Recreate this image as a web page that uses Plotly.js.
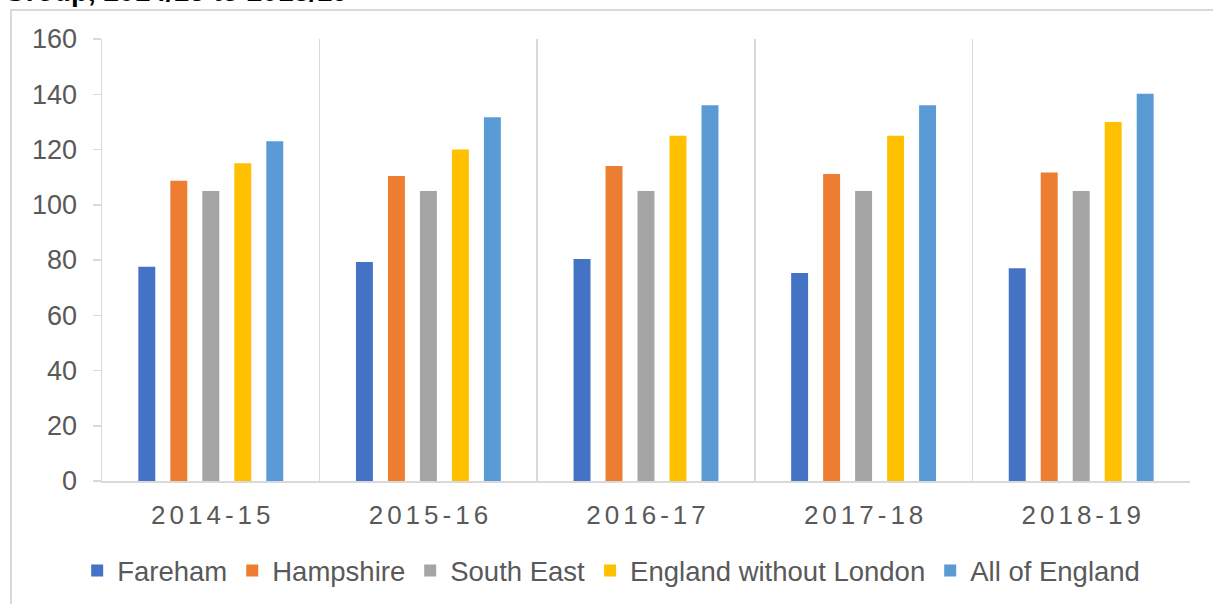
<!DOCTYPE html>
<html>
<head>
<meta charset="utf-8">
<script src="https://cdn.plot.ly/plotly-3.0.1.min.js"></script>
<style>
  html, body { margin: 0; padding: 0; background: #ffffff; overflow: hidden; }
  #frame { position: absolute; left: 10px; top: 9px; width: 1220px; height: 620px;
           border: 2px solid #d9d9d9; box-sizing: border-box; }
  #chart { position: absolute; left: 0; top: 0; width: 1213px; height: 604px; }
</style>
</head>
<body>
<div id="frame"></div>
<div id="chart"></div>
<script>
const years = ["2014-15", "2015-16", "2016-17", "2017-18", "2018-19"];
const seriesNames = ["Fareham", "Hampshire", "South East", "England without London", "All of England"];
const fareham = [77.6, 79.3, 80.4, 75.3, 77.0];
const hampshire = [108.7, 110.4, 114.0, 111.1, 111.7];
const southEast = [105, 105, 105, 105, 105];
const englandWithoutLondon = [115, 120, 125, 125, 130];
const allOfEngland = [123, 131.7, 136, 136, 140.2];
const colors = ["#4472C4", "#ED7D31", "#A5A5A5", "#FFC000", "#5B9BD5"];

const values = [fareham, hampshire, southEast, englandWithoutLondon, allOfEngland];
const traces = values.map((v, i) => ({
  type: "bar",
  name: seriesNames[i],
  x: years,
  y: v,
  marker: { color: colors[i], line: { width: 0 } }
}));

const font = "Liberation Sans, Arial, sans-serif";
const layout = {
  width: 1213, height: 604,
  margin: { l: 102, r: 23, t: 39, b: 123, autoexpand: false },
  paper_bgcolor: "rgba(0,0,0,0)",
  plot_bgcolor: "rgba(0,0,0,0)",
  barmode: "group",
  bargap: 0.265,
  bargroupgap: 0.47,
  font: { family: font, color: "#595959" },
  xaxis: {
    type: "category",
    tickson: "boundaries",
    showgrid: true, gridcolor: "#d9d9d9", gridwidth: 1.5,
    showline: true, linecolor: "#d9d9d9", linewidth: 1.5,
    ticks: "", tickfont: { size: 26, color: "#595959", family: font },
    ticklabelstandoff: 10,
    zeroline: false
  },
  yaxis: {
    range: [0, 160], dtick: 20, tick0: 0,
    showgrid: false, zeroline: false,
    showline: true, linecolor: "#d9d9d9", linewidth: 1.5,
    ticks: "outside", ticklen: 8, tickcolor: "#d9d9d9", tickwidth: 1.5,
    tickfont: { size: 27, color: "#595959", family: font },
    ticklabelstandoff: 10
  },
  showlegend: true,
  legend: {
    orientation: "h", xref: "paper", yref: "paper",
    x: 0.468, xanchor: "center", y: -0.203, yanchor: "middle",
    font: { size: 27.5, color: "#595959", family: font },
    itemwidth: 30, traceorder: "normal"
  },
  annotations: [{
    text: "<b>Group, 2014/15 to 2018/19</b>",
    xref: "paper", yref: "paper", x: -0.092, xanchor: "left",
    y: 1.068, yanchor: "bottom", showarrow: false,
    font: { size: 28, color: "#000000", family: font }
  }]
};

Plotly.newPlot("chart", traces, layout, { displayModeBar: false, staticPlot: true }).then(() => {
  document.querySelectorAll("#chart .xtick text").forEach(t => {
    t.style.letterSpacing = "4px";
    t.setAttribute("dx", "2");
  });
});
</script>
</body>
</html>
